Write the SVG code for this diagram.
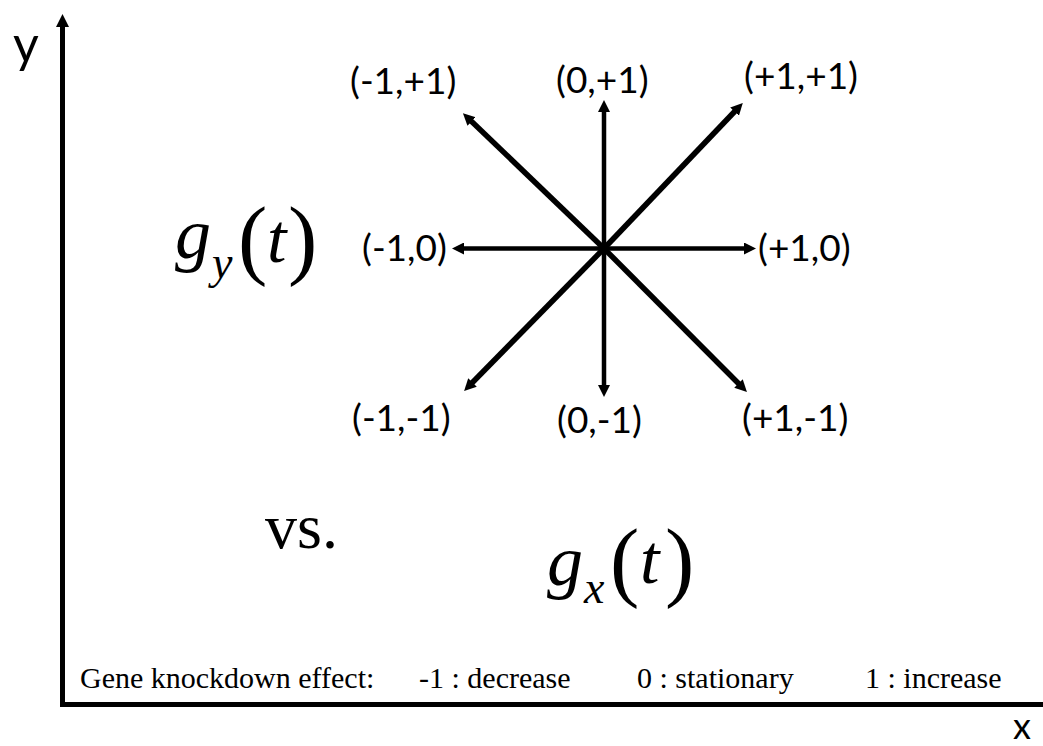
<svg xmlns="http://www.w3.org/2000/svg" width="1043" height="746" viewBox="0 0 1043 746">
<style>
.lbl{font-family:Lato,"Liberation Sans",sans-serif;font-size:37px;fill:#000}
.ax{font-family:Lato,"Liberation Sans",sans-serif;fill:#000}
.mi{font-family:"Liberation Serif",serif;font-style:italic;fill:#000}
.mr{font-family:"Liberation Serif",serif;font-style:normal;fill:#000}
.star{stroke:#000;fill:none;marker-end:url(#ah)}
.axis{stroke:#000;stroke-width:5;fill:none}
</style>
<defs>
<marker id="ah" markerUnits="userSpaceOnUse" markerWidth="12" markerHeight="12" refX="5" refY="6" orient="auto">
<path d="M0,0 L12,6 L0,12 z" fill="#000"/>
</marker>
<marker id="ah2" markerUnits="userSpaceOnUse" markerWidth="13" markerHeight="13" refX="5" refY="6.5" orient="auto">
<path d="M0,0 L13,6.5 L0,13 z" fill="#000"/>
</marker>
</defs>
<g id="axes">
<line class="axis" x1="62.5" y1="707" x2="62.5" y2="22" marker-end="url(#ah2)"/>
<line class="axis" x1="60" y1="704.5" x2="1043" y2="704.5"/>
</g>
<g id="connectors">
<line class="star" stroke-width="4.5" x1="604" y1="248.5" x2="604" y2="107"/>
<line class="star" stroke-width="4.5" x1="604" y1="248.5" x2="604" y2="390"/>
<line class="star" stroke-width="4.5" x1="604" y1="248.5" x2="459" y2="248.5"/>
<line class="star" stroke-width="4.5" x1="604" y1="248.5" x2="749" y2="248.5"/>
<line class="star" stroke-width="5.5" x1="604" y1="248.5" x2="468" y2="118"/>
<line class="star" stroke-width="5.5" x1="604" y1="248.5" x2="738" y2="108"/>
<line class="star" stroke-width="5.5" x1="604" y1="248.5" x2="469" y2="386"/>
<line class="star" stroke-width="5.5" x1="604" y1="248.5" x2="742" y2="387"/>
</g>
<g id="labels">
<text class="lbl" x="350" y="94">(-1,+1)</text>
<text class="lbl" x="556" y="93">(0,+1)</text>
<text class="lbl" x="744" y="89">(+1,+1)</text>
<text class="lbl" x="362" y="261">(-1,0)</text>
<text class="lbl" x="758" y="261">(+1,0)</text>
<text class="lbl" x="352" y="431">(-1,-1)</text>
<text class="lbl" x="557" y="433">(0,-1)</text>
<text class="lbl" x="742" y="431">(+1,-1)</text>
</g>
<g id="axis-labels">
<text class="ax" x="13" y="62" font-size="50">y</text>
<text class="ax" x="1013" y="739" font-size="36">x</text>
</g>
<g id="gy">
<text class="mi" x="175" y="258" font-size="72">g<tspan x="212" y="278" font-size="46">y</tspan><tspan class="mr" x="238" y="268" font-size="88">(</tspan><tspan x="267" y="262" font-size="70">t</tspan><tspan class="mr" x="288" y="268" font-size="88">)</tspan></text>
</g>
<g id="vs">
<text class="mr" x="265" y="548" font-size="64">vs.</text>
</g>
<g id="gx">
<text class="mi" x="547" y="585" font-size="72">g<tspan x="584" y="603" font-size="46">x</tspan><tspan class="mr" x="610" y="590" font-size="88">(</tspan><tspan x="640" y="583" font-size="70">t</tspan><tspan class="mr" x="665" y="590" font-size="88">)</tspan></text>
</g>
<g id="legend">
<text class="mr" x="80" y="688" font-size="30">Gene knockdown effect:</text>
<text class="mr" x="419" y="688" font-size="30">-1 : decrease</text>
<text class="mr" x="637" y="688" font-size="30">0 : stationary</text>
<text class="mr" x="865" y="688" font-size="30">1 : increase</text>
</g>
</svg>
